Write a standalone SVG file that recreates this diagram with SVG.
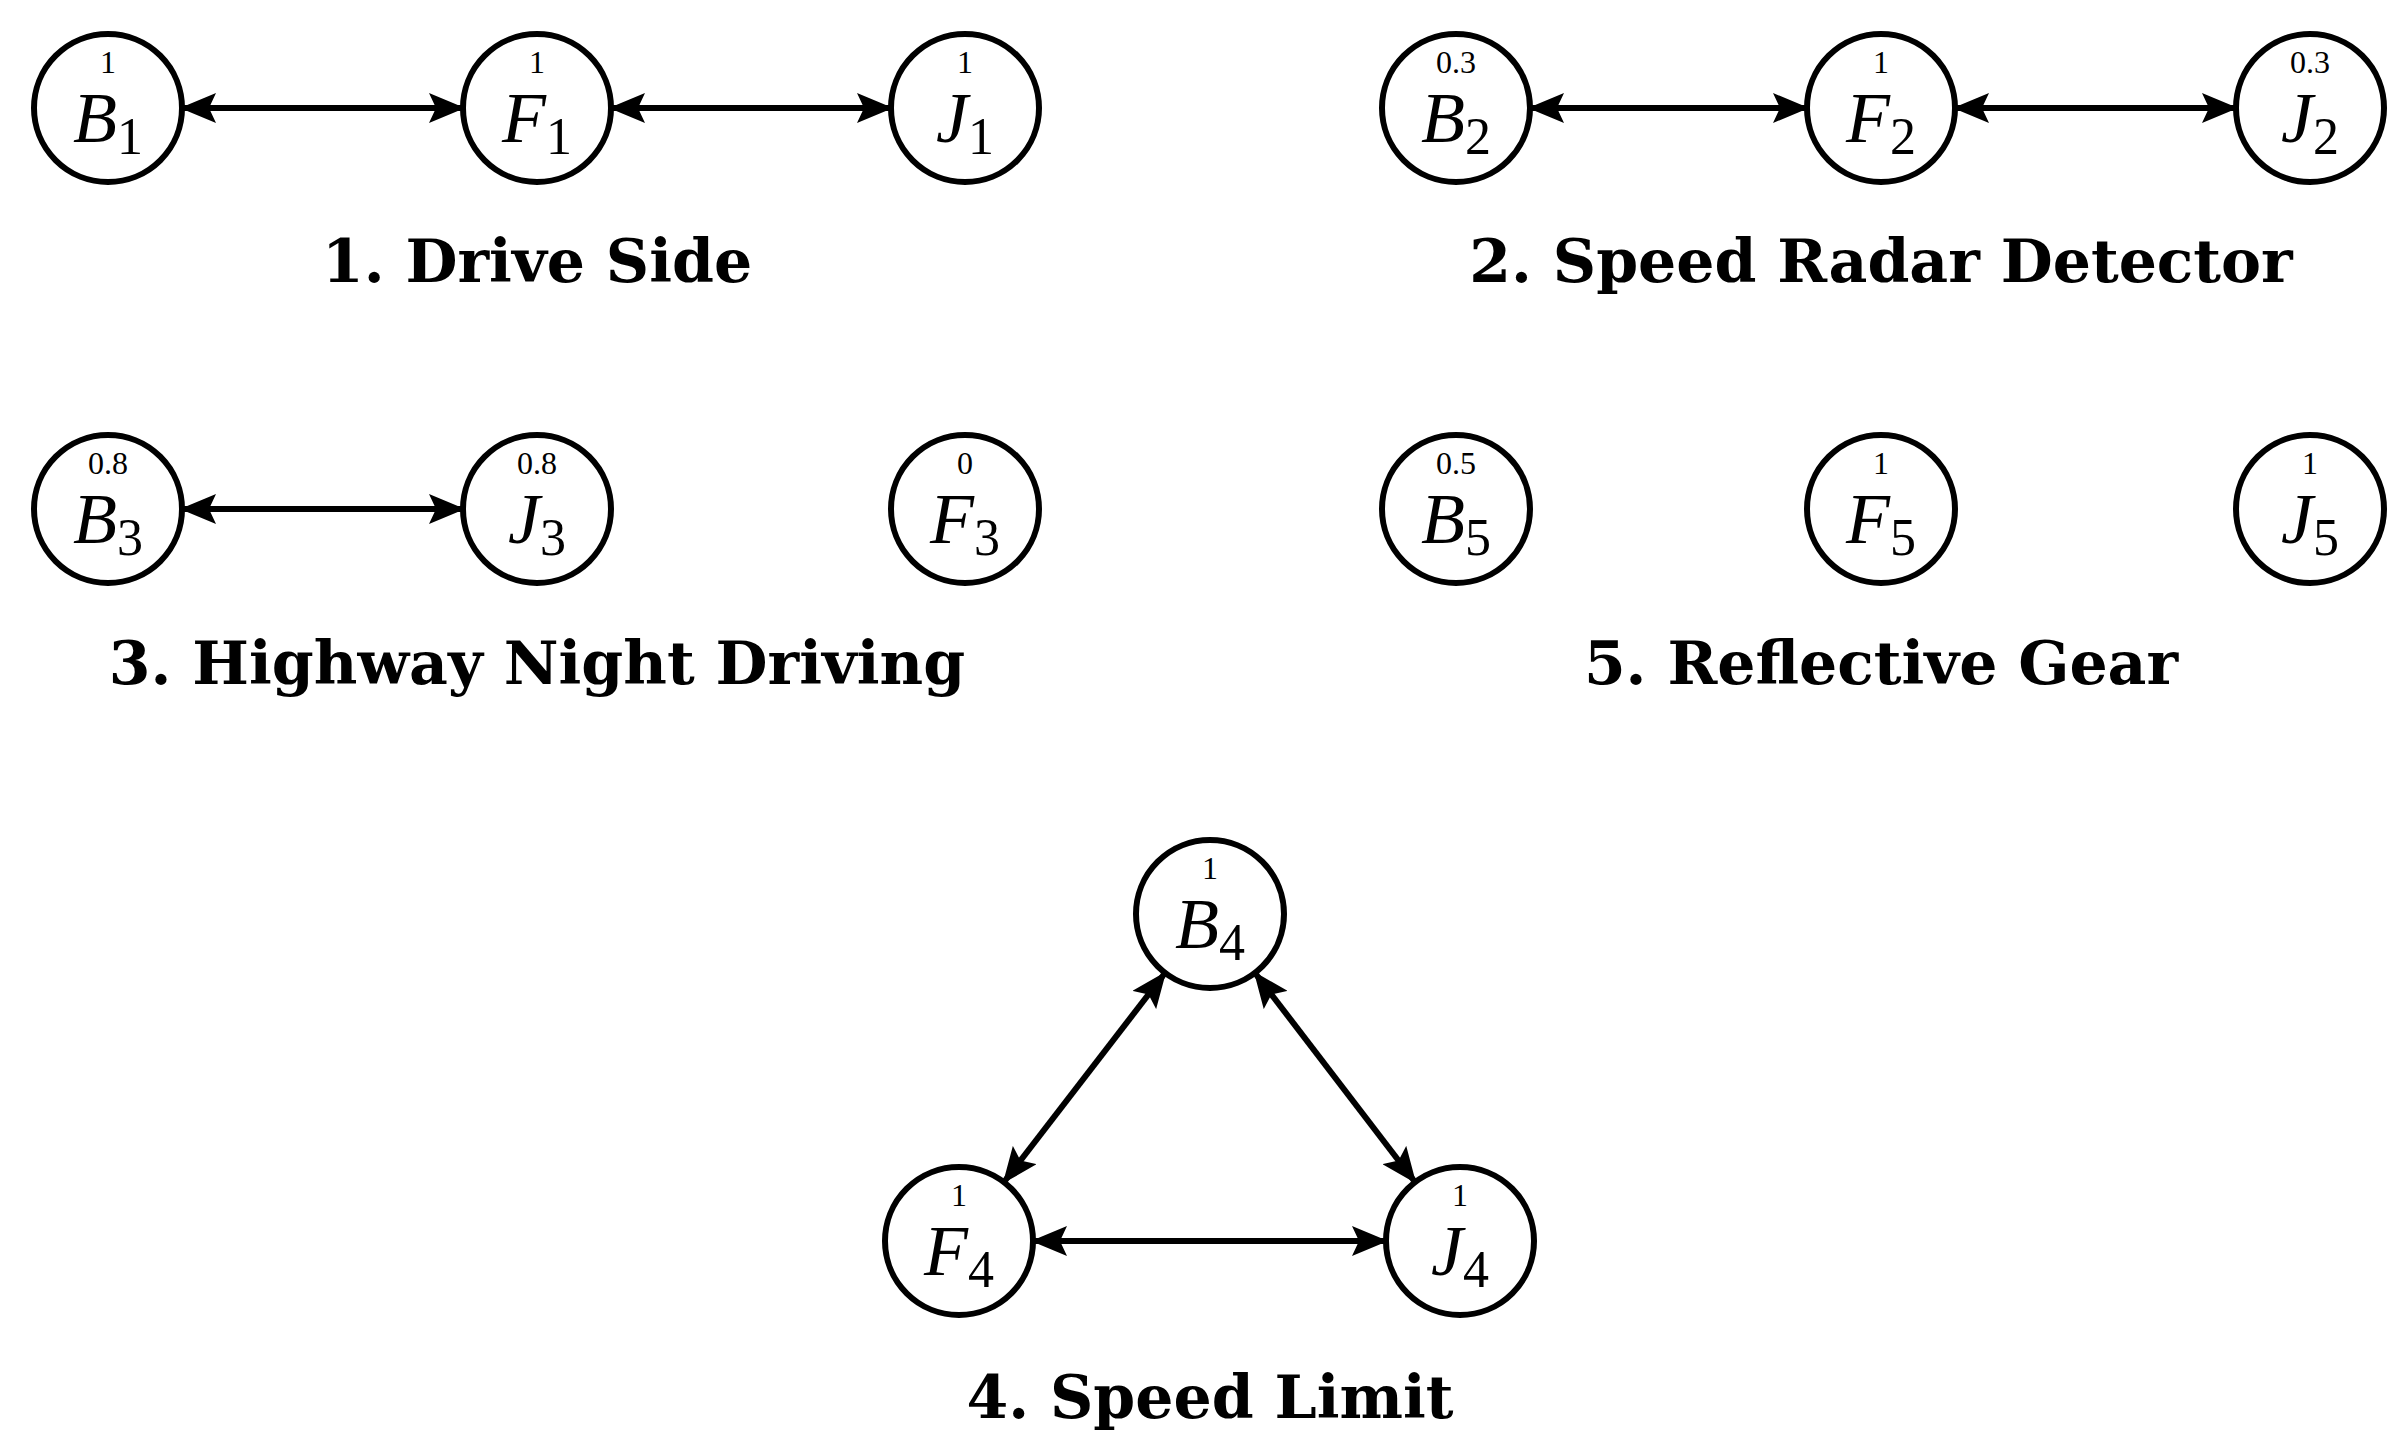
<svg xmlns="http://www.w3.org/2000/svg" width="2406" height="1451" viewBox="0 0 2406 1451">
<style>
.n{fill:#fff;stroke:#000;stroke-width:6}
.l{font-family:"Liberation Serif",serif;font-style:italic;font-size:72px;text-anchor:middle}
.s{font-style:normal;font-size:52px}
.p{font-family:"Liberation Serif",serif;font-size:32px;text-anchor:middle}
.t{font-family:"DejaVu Serif","Liberation Serif",serif;font-weight:bold;font-size:60px;text-anchor:middle}
.e{stroke:#000;stroke-width:6;fill:none;marker-start:url(#a);marker-end:url(#a)}
</style>
<defs>
<marker id="a" markerUnits="userSpaceOnUse" viewBox="0 0 36 30" refX="34" refY="15" markerWidth="36" markerHeight="30" orient="auto-start-reverse">
<path d="M0,0 L36,15 L0,30 L7,15 Z" fill="#000"/>
</marker>
</defs>
<g id="connectors">
<line class="e" x1="182" y1="108" x2="463" y2="108"/>
<line class="e" x1="611" y1="108" x2="891" y2="108"/>
<line class="e" x1="1530" y1="108" x2="1807" y2="108"/>
<line class="e" x1="1955" y1="108" x2="2236" y2="108"/>
<line class="e" x1="182" y1="509" x2="463" y2="509"/>
<line class="e" x1="1165" y1="973" x2="1004" y2="1182"/>
<line class="e" x1="1255" y1="973" x2="1415" y2="1182"/>
<line class="e" x1="1033" y1="1241" x2="1386" y2="1241"/>
</g>
<g id="B1"><circle class="n" cx="108" cy="108" r="74"/><text class="p" x="108" y="73">1</text><text class="l" x="108" y="142">B<tspan class="s" dy="12">1</tspan></text></g>
<g id="F1"><circle class="n" cx="537" cy="108" r="74"/><text class="p" x="537" y="73">1</text><text class="l" x="537" y="142">F<tspan class="s" dy="12">1</tspan></text></g>
<g id="J1"><circle class="n" cx="965" cy="108" r="74"/><text class="p" x="965" y="73">1</text><text class="l" x="965" y="142">J<tspan class="s" dy="12">1</tspan></text></g>
<g id="B2"><circle class="n" cx="1456" cy="108" r="74"/><text class="p" x="1456" y="73">0.3</text><text class="l" x="1456" y="142">B<tspan class="s" dy="12">2</tspan></text></g>
<g id="F2"><circle class="n" cx="1881" cy="108" r="74"/><text class="p" x="1881" y="73">1</text><text class="l" x="1881" y="142">F<tspan class="s" dy="12">2</tspan></text></g>
<g id="J2"><circle class="n" cx="2310" cy="108" r="74"/><text class="p" x="2310" y="73">0.3</text><text class="l" x="2310" y="142">J<tspan class="s" dy="12">2</tspan></text></g>
<g id="B3"><circle class="n" cx="108" cy="509" r="74"/><text class="p" x="108" y="474">0.8</text><text class="l" x="108" y="543">B<tspan class="s" dy="12">3</tspan></text></g>
<g id="J3"><circle class="n" cx="537" cy="509" r="74"/><text class="p" x="537" y="474">0.8</text><text class="l" x="537" y="543">J<tspan class="s" dy="12">3</tspan></text></g>
<g id="F3"><circle class="n" cx="965" cy="509" r="74"/><text class="p" x="965" y="474">0</text><text class="l" x="965" y="543">F<tspan class="s" dy="12">3</tspan></text></g>
<g id="B5"><circle class="n" cx="1456" cy="509" r="74"/><text class="p" x="1456" y="474">0.5</text><text class="l" x="1456" y="543">B<tspan class="s" dy="12">5</tspan></text></g>
<g id="F5"><circle class="n" cx="1881" cy="509" r="74"/><text class="p" x="1881" y="474">1</text><text class="l" x="1881" y="543">F<tspan class="s" dy="12">5</tspan></text></g>
<g id="J5"><circle class="n" cx="2310" cy="509" r="74"/><text class="p" x="2310" y="474">1</text><text class="l" x="2310" y="543">J<tspan class="s" dy="12">5</tspan></text></g>
<g id="B4"><circle class="n" cx="1210" cy="914" r="74"/><text class="p" x="1210" y="879">1</text><text class="l" x="1210" y="948">B<tspan class="s" dy="12">4</tspan></text></g>
<g id="F4"><circle class="n" cx="959" cy="1241" r="74"/><text class="p" x="959" y="1206">1</text><text class="l" x="959" y="1275">F<tspan class="s" dy="12">4</tspan></text></g>
<g id="J4"><circle class="n" cx="1460" cy="1241" r="74"/><text class="p" x="1460" y="1206">1</text><text class="l" x="1460" y="1275">J<tspan class="s" dy="12">4</tspan></text></g>
<g id="titles">
<text class="t" x="537" y="282">1. Drive Side</text>
<text class="t" x="1881" y="282">2. Speed Radar Detector</text>
<text class="t" x="537" y="684">3. Highway Night Driving</text>
<text class="t" x="1881" y="684">5. Reflective Gear</text>
<text class="t" x="1210" y="1418">4. Speed Limit</text>
</g>
</svg>
